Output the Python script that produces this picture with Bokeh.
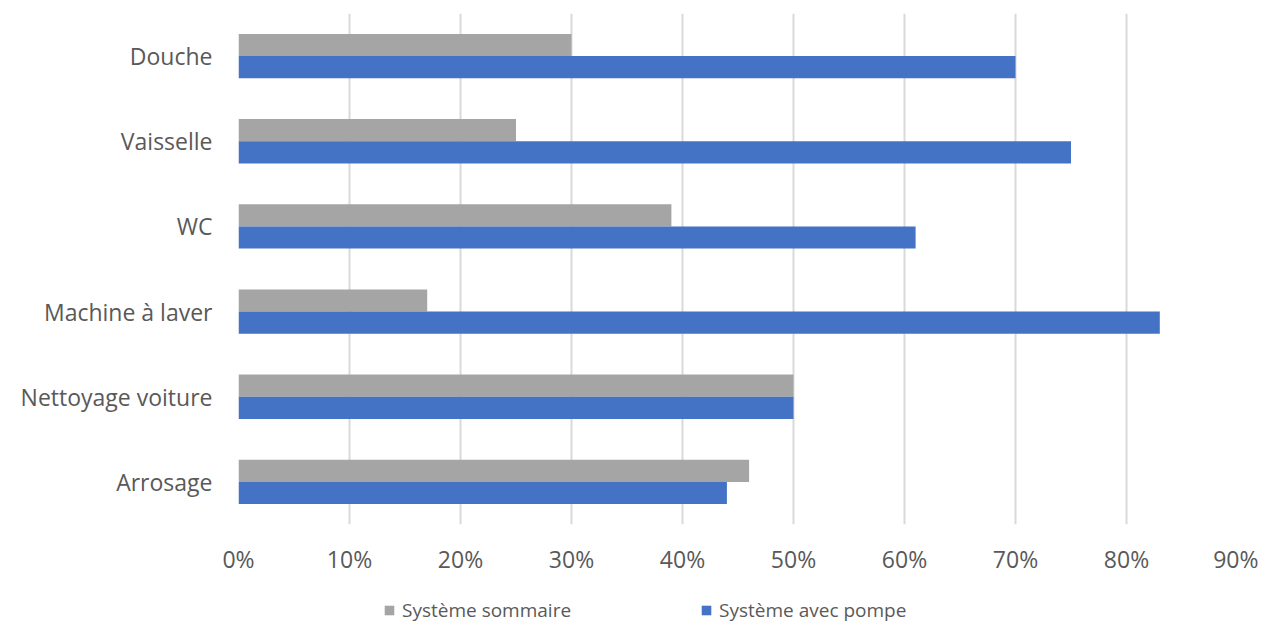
from bokeh.plotting import figure
from bokeh.layouts import column
from bokeh.models import ColumnDataSource, Legend, LegendItem, NumeralTickFormatter, FixedTicker, Range1d
from bokeh.transform import dodge
from bokeh.embed import file_html
from bokeh.resources import INLINE

categories = ["Arrosage", "Nettoyage voiture", "Machine à laver", "WC", "Vaisselle", "Douche"]
sommaire = [0.46, 0.50, 0.17, 0.39, 0.25, 0.30]
pompe = [0.44, 0.50, 0.83, 0.61, 0.75, 0.70]
ticks = [i / 10 for i in range(10)]
series_names = ["Système sommaire", "Système avec pompe"]
series_colors = ["#a5a5a5", "#4472c4"]

src = ColumnDataSource(dict(cat=categories, s=sommaire, p=pompe))

FONT = "Open Sans"
TXT = "#595959"

p = figure(frame_width=999, frame_height=511, y_range=categories, x_range=Range1d(0, 0.9),
           output_backend="svg", toolbar_location=None,
           min_border_left=238, min_border_right=21, min_border_top=13, min_border_bottom=50)
p.outline_line_color = None

bw = 0.26
p.hbar(y=dodge("cat", 0.13, range=p.y_range), right="s", height=bw, source=src,
       color=series_colors[0], line_color=None)
p.hbar(y=dodge("cat", -0.13, range=p.y_range), right="p", height=bw, source=src,
       color=series_colors[1], line_color=None)

p.xaxis.ticker = FixedTicker(ticks=ticks)
p.xaxis.formatter = NumeralTickFormatter(format="0%")
p.xaxis.axis_line_color = None
p.xaxis.major_tick_line_color = None
p.xaxis.minor_tick_line_color = None
p.xaxis.major_label_text_font = FONT
p.xaxis.major_label_text_font_size = "23px"
p.xaxis.major_label_text_color = TXT
p.xaxis.major_label_standoff = 12

p.yaxis.axis_line_color = None
p.yaxis.major_tick_line_color = None
p.yaxis.minor_tick_line_color = None
p.yaxis.major_label_text_font = FONT
p.yaxis.major_label_text_font_size = "23px"
p.yaxis.major_label_text_color = TXT
p.yaxis.major_label_standoff = 20

p.ygrid.grid_line_color = None
p.xgrid.grid_line_color = "#d9d9d9"
p.xgrid.grid_line_width = 2

# legend strip below the chart (proxy bars lie outside its visible range)
lg = figure(width=1258, height=57, output_backend="svg", toolbar_location=None,
            x_range=Range1d(0, 1), y_range=Range1d(0, 1),
            min_border_left=0, min_border_right=0, min_border_top=0, min_border_bottom=0)
lg.outline_line_color = None
lg.axis.visible = False
lg.grid.visible = False
proxy = ColumnDataSource(dict(y=[-10], r=[0]))
items = []
for name, col in zip(series_names, series_colors):
    rr = lg.hbar(y="y", right="r", height=0.5, source=proxy, color=col, line_color=None)
    items.append(LegendItem(label=name, renderers=[rr]))

legend = Legend(items=items, orientation="horizontal", location=(145, 11),
                label_text_font=FONT, label_text_font_size="19px", label_text_color=TXT,
                glyph_width=12, glyph_height=12, label_standoff=7, spacing=129,
                border_line_color=None, background_fill_alpha=0, margin=0, padding=3)
lg.add_layout(legend, "center")

layout = column(p, lg, spacing=0)
open("out.html", "w").write(file_html(layout, INLINE))
